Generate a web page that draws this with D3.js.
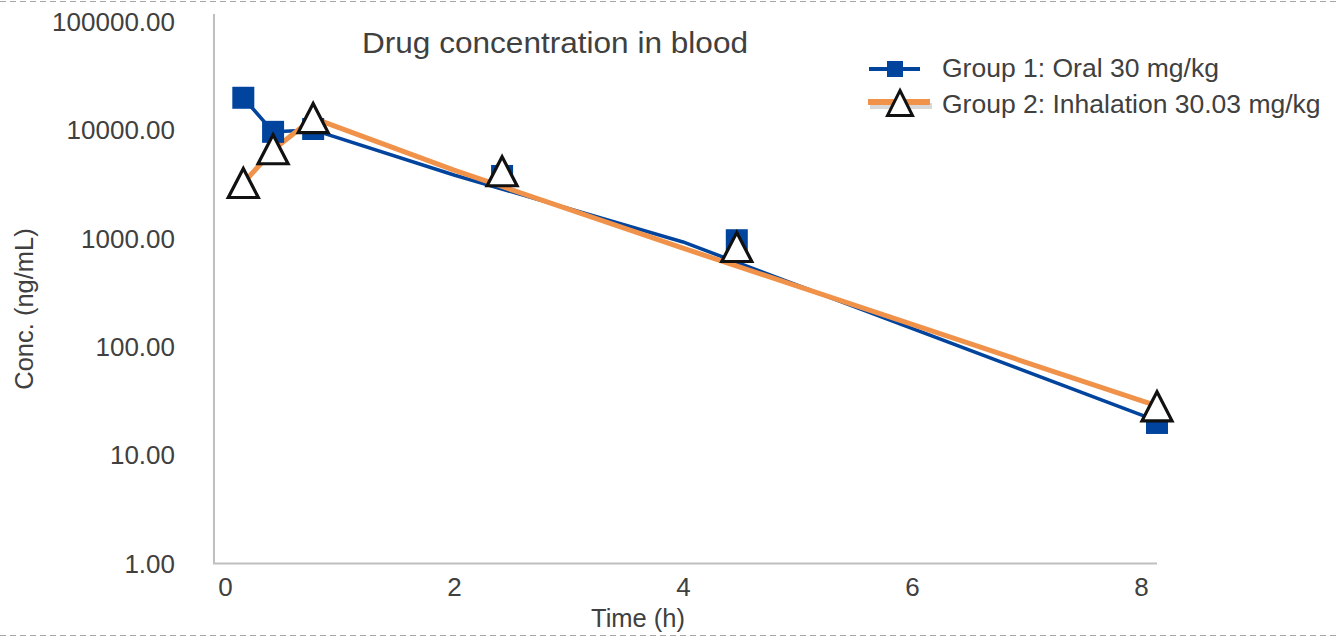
<!DOCTYPE html>
<html>
<head>
<meta charset="utf-8">
<script src="https://cdn.jsdelivr.net/npm/d3@7"></script>
<style>
  body { margin: 0; background: #fff; }
  svg { display: block; font-family: "Liberation Sans", Arial, sans-serif; }
</style>
</head>
<body>
<div id="chart"></div>
<script>
// marker positions (h) and concentrations (ng/mL)
const markerTimes = [0.16, 0.42, 0.77, 2.42, 4.47, 8.14];
const group1Markers = [20000, 9700, 10300, 3800, 970, 20];
const group2Markers = [3270, 6700, 13000, 4200, 840, 28.5];

// connecting line points
const lineTimes = [0.16, 0.42, 0.77, 2, 4, 8.14];
const group1Line = [20000, 9700, 10100, 3880, 935, 20.9];
const group2Line = [3270, 6600, 13000, 4300, 820, 28.7];

const yTicks = [1, 10, 100, 1000, 10000, 100000];
const xTicks = [0, 2, 4, 6, 8];
const seriesNames = ["Group 1: Oral 30 mg/kg", "Group 2: Inhalation 30.03 mg/kg"];

const w = 1339, h = 638;
const blue = "#00449e", orange = "#f0924a", textColor = "#404040", axisColor = "#bfbfbf";

const svg = d3.select("#chart").append("svg")
  .attr("width", w)
  .attr("height", h);

// dashed frame lines top and bottom
svg.append("line").attr("x1", 0).attr("x2", w).attr("y1", 1.5).attr("y2", 1.5)
  .attr("stroke", "#a6a6a6").attr("stroke-width", 1.2).attr("stroke-dasharray", "6,4");
svg.append("line").attr("x1", 0).attr("x2", w).attr("y1", 635.5).attr("y2", 635.5)
  .attr("stroke", "#a6a6a6").attr("stroke-width", 1.2).attr("stroke-dasharray", "6,4");

const xScale = d3.scaleLinear().domain([-0.096, 8.14]).range([214, 1157]);
const yScale = d3.scaleLog().domain([1, 100000]).range([564, 22]);

// axes
const yAxis = d3.axisLeft(yScale)
  .tickValues(yTicks)
  .tickFormat(d3.format(".2f"))
  .tickSize(0)
  .tickPadding(39);

svg.append("g")
  .attr("transform", "translate(214,0)")
  .call(yAxis)
  .call(g => g.select(".domain").remove())
  .selectAll("text")
  .attr("fill", textColor)
  .style("font-size", "26px")
  .style("font-family", "'Liberation Sans', Arial, sans-serif");

const xAxis = d3.axisBottom(xScale)
  .tickValues(xTicks)
  .tickFormat(d3.format("d"))
  .tickSize(0)
  .tickPadding(14);

svg.append("g")
  .attr("transform", "translate(0,564)")
  .call(xAxis)
  .call(g => g.select(".domain").remove())
  .selectAll("text")
  .attr("fill", textColor)
  .style("font-size", "26px")
  .style("font-family", "'Liberation Sans', Arial, sans-serif");

svg.append("line").attr("x1", 214).attr("x2", 214).attr("y1", 14).attr("y2", 564)
  .attr("stroke", axisColor).attr("stroke-width", 2);
svg.append("line").attr("x1", 213).attr("x2", 1157).attr("y1", 563.5).attr("y2", 563.5)
  .attr("stroke", axisColor).attr("stroke-width", 2);

// axis titles
svg.append("text")
  .attr("x", 638).attr("y", 627)
  .attr("text-anchor", "middle")
  .attr("fill", textColor)
  .style("font-size", "25.5px")
  .text("Time (h)");

svg.append("text")
  .attr("text-anchor", "middle")
  .attr("transform", "translate(33,309) rotate(-90)")
  .attr("fill", textColor)
  .style("font-size", "25.5px")
  .text("Conc. (ng/mL)");

// title
svg.append("text")
  .attr("x", 362).attr("y", 53)
  .attr("fill", textColor)
  .attr("textLength", 386)
  .attr("lengthAdjust", "spacingAndGlyphs")
  .style("font-size", "30px")
  .text("Drug concentration in blood");

// lines
const line1 = lineTimes.map((t, i) => [t, group1Line[i]]);
const line2 = lineTimes.map((t, i) => [t, group2Line[i]]);
const lineGen = d3.line().x(d => xScale(d[0])).y(d => yScale(d[1]));

svg.append("path").datum(line1)
  .attr("d", lineGen)
  .attr("fill", "none").attr("stroke", blue).attr("stroke-width", 3.5)
  .attr("stroke-linejoin", "round");

svg.append("path").datum(line2)
  .attr("d", lineGen)
  .attr("fill", "none").attr("stroke", orange).attr("stroke-width", 5)
  .attr("stroke-linejoin", "round");

// markers
const sq = 22;
svg.selectAll("rect.g1")
  .data(markerTimes.map((t, i) => [t, group1Markers[i]]))
  .enter()
  .append("rect")
  .attr("class", "g1")
  .attr("x", d => xScale(d[0]) - sq / 2)
  .attr("y", d => yScale(d[1]) - sq / 2)
  .attr("width", sq).attr("height", sq)
  .attr("fill", blue);

const tri = (hw, hh) => `M0,${-hh}L${hw},${hh}L${-hw},${hh}Z`;

svg.selectAll("path.g2")
  .data(markerTimes.map((t, i) => [t, group2Markers[i]]))
  .enter()
  .append("path")
  .attr("class", "g2")
  .attr("d", tri(15, 14.5))
  .attr("transform", d => `translate(${xScale(d[0])},${yScale(d[1])})`)
  .attr("fill", "#fff")
  .attr("stroke", "#111").attr("stroke-width", 3.2)
  .attr("stroke-linejoin", "miter");

// legend
const legend = svg.append("g").attr("id", "legend");

legend.append("line").attr("x1", 869).attr("x2", 920).attr("y1", 69).attr("y2", 69)
  .attr("stroke", blue).attr("stroke-width", 4);
legend.append("rect").attr("x", 887).attr("y", 61).attr("width", 16).attr("height", 16)
  .attr("fill", blue);
legend.append("text").attr("x", 942).attr("y", 77)
  .attr("fill", textColor).style("font-size", "26.5px")
  .text(seriesNames[0]);

legend.append("line").attr("x1", 870).attr("x2", 932).attr("y1", 106).attr("y2", 106)
  .attr("stroke", "#c8c8c8").attr("stroke-width", 6).attr("opacity", 0.7);
legend.append("line").attr("x1", 868).attr("x2", 930).attr("y1", 102).attr("y2", 102)
  .attr("stroke", orange).attr("stroke-width", 6);
legend.append("path")
  .attr("d", tri(12.5, 12.5))
  .attr("transform", "translate(900,103)")
  .attr("fill", "#fff").attr("stroke", "#111").attr("stroke-width", 3);
legend.append("text").attr("x", 942).attr("y", 113)
  .attr("fill", textColor).style("font-size", "26.5px")
  .text(seriesNames[1]);
</script>
</body>
</html>
